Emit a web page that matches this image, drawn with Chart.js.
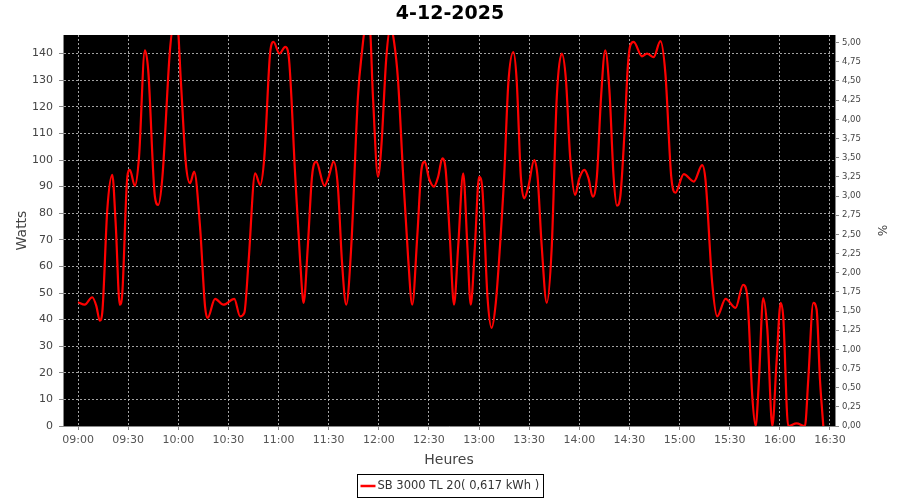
<!DOCTYPE html>
<html>
<head>
<meta charset="utf-8">
<title>4-12-2025</title>
<script src="https://cdn.jsdelivr.net/npm/chart.js@4.4.1/dist/chart.umd.min.js"></script>
<style>
    html, body { margin: 0; padding: 0; background: #ffffff; }
    #graphique { display: block; }
</style>
</head>
<body>
<canvas id="graphique" width="900" height="500"></canvas>
<script>
// Releves de la journee (heure, puissance en W)
const heures = [
    "09:00:00", "09:04:00", "09:08:30", "09:11:00", "09:13:00", "09:14:30", "09:17:30", "09:20:30", "09:22:30", "09:25:00",
    "09:26:30", "09:29:30", "09:31:00", "09:34:00", "09:36:30", "09:40:00", "09:42:00", "09:46:00", "09:48:00", "09:50:30",
    "09:55:00", "09:57:00", "09:59:30", "10:01:30", "10:04:30", "10:07:00", "10:09:30", "10:13:00", "10:16:00", "10:17:30",
    "10:22:00", "10:27:00", "10:33:30", "10:37:00", "10:39:30", "10:42:00", "10:46:00", "10:49:00", "10:51:30", "10:55:00",
    "10:57:00", "11:00:30", "11:04:00", "11:06:00", "11:10:00", "11:13:00", "11:15:00", "11:17:30", "11:20:00", "11:22:30",
    "11:27:30", "11:30:00", "11:33:00", "11:35:30", "11:38:00", "11:40:30", "11:43:30", "11:47:30", "11:50:00", "11:52:00",
    "11:54:30", "11:56:30", "11:59:30", "12:01:30", "12:04:30", "12:07:00", "12:09:00", "12:11:30", "12:14:30", "12:17:30",
    "12:20:00", "12:23:00", "12:25:30", "12:27:30", "12:30:00", "12:33:00", "12:35:30", "12:38:00", "12:40:00", "12:42:30",
    "12:45:00", "12:47:30", "12:50:30", "12:53:00", "12:55:00", "12:57:30", "13:00:00", "13:02:00", "13:05:00", "13:07:30",
    "13:10:00", "13:12:30", "13:15:00", "13:17:30", "13:20:30", "13:22:30", "13:25:00", "13:27:00", "13:29:30", "13:33:00",
    "13:35:00", "13:37:30", "13:40:30", "13:43:30", "13:46:30", "13:49:30", "13:52:00", "13:54:30", "13:57:30", "14:00:00",
    "14:03:00", "14:05:30", "14:08:00", "14:10:30", "14:13:00", "14:15:30", "14:18:00", "14:20:30", "14:22:30", "14:24:30",
    "14:27:00", "14:29:00", "14:30:30", "14:32:30", "14:37:30", "14:40:30", "14:44:30", "14:48:30", "14:51:30", "14:55:00",
    "14:57:30", "15:02:30", "15:08:30", "15:13:30", "15:15:30", "15:19:30", "15:22:30", "15:27:30", "15:33:30", "15:38:00",
    "15:40:30", "15:43:30", "15:45:30", "15:47:30", "15:50:00", "15:52:30", "15:55:30", "15:58:00", "16:00:30", "16:02:00",
    "16:05:00", "16:10:00", "16:15:00", "16:17:00", "16:20:00", "16:22:00", "16:24:00", "16:26:00"
]
const watts = [
    46.5, 45.6, 48.4, 45.0, 39.6, 42.6, 81.3, 94.4, 76.4, 45.6,
    50.0, 93.7, 96.3, 90.3, 101.2, 141.2, 133.7, 86.2, 83.1, 93.7,
    141.2, 150.0, 150.0, 130.0, 98.8, 91.3, 95.6, 75.0, 45.0, 40.6,
    47.8, 45.6, 47.8, 41.2, 42.5, 61.3, 95.0, 90.6, 101.2, 140.6,
    144.4, 140.0, 142.5, 139.4, 93.7, 61.3, 46.3, 67.5, 93.7, 99.4,
    90.3, 93.7, 99.4, 90.0, 61.3, 45.6, 67.5, 123.7, 141.2, 150.0,
    150.0, 123.7, 93.7, 105.0, 138.7, 150.0, 145.0, 130.0, 95.0, 63.7,
    45.6, 71.2, 96.3, 99.4, 93.1, 90.0, 93.7, 100.6, 96.3, 71.2,
    45.6, 67.5, 95.0, 67.5, 45.6, 67.5, 93.7, 88.8, 48.8, 36.9,
    46.3, 67.5, 93.7, 128.8, 140.6, 130.0, 93.7, 85.6, 90.0, 100.0,
    93.7, 67.5, 46.3, 67.5, 123.7, 140.0, 130.0, 101.2, 86.9, 93.1,
    96.3, 93.1, 86.2, 93.7, 123.7, 141.2, 126.2, 93.7, 82.8, 86.2,
    110.0, 135.0, 143.1, 144.4, 139.0, 140.0, 138.7, 144.7, 132.5, 93.7,
    87.7, 94.7, 91.9, 98.1, 92.5, 53.8, 41.2, 47.8, 44.4, 53.1,
    48.8, 11.2, 0, 17.5, 48.1, 36.3, 0, 23.8, 46.3, 41.2,
    0, 1.0, 0, 17.5, 46.3, 43.8, 17.5, 0
]

const heuresAxe   = ["09:00", "09:30", "10:00", "10:30", "11:00", "11:30", "12:00", "12:30",
                     "13:00", "13:30", "14:00", "14:30", "15:00", "15:30", "16:00", "16:30"]
const wattsAxe    = [0, 10, 20, 30, 40, 50, 60, 70, 80, 90, 100, 110, 120, 130, 140]
const pourcentAxe = [0, 0.25, 0.5, 0.75, 1, 1.25, 1.5, 1.75, 2, 2.25, 2.5, 2.75, 3, 3.25, 3.5,
                     3.75, 4, 4.25, 4.5, 4.75, 5]

const nomSerie = "SB 3000 TL 20( 0,617 kWh )"

// "HH:MM(:SS)" -> minutes depuis minuit
const enMinutes = function (h) {
    const p = h.split(":").map(Number)
    return p[0] * 60 + p[1] + (p[2] || 0) / 60
}
const enHeure = function (m) {
    const h = Math.floor(m / 60)
    const mn = Math.round(m % 60)
    return String(h).padStart(2, "0") + ":" + String(mn).padStart(2, "0")
}

const points = heures.map((h, i) => ({ x: enMinutes(h), y: watts[i] }))

const gris    = "#444444"
const grille  = "rgba(190,190,190,0.85)"

// fond noir de la zone de trace
const fondNoir = {
    id: "fondNoir",
    beforeDraw(chart) {
        const { ctx, chartArea } = chart
        ctx.save()
        ctx.fillStyle = "#000000"
        ctx.fillRect(chartArea.left, chartArea.top, chartArea.right - chartArea.left, chartArea.bottom - chartArea.top)
        ctx.restore()
    }
}

// legende encadree en bas
const cadreLegende = {
    id: "cadreLegende",
    afterDraw(chart) {
        const ctx = chart.ctx
        const ds = chart.data.datasets[0]
        ctx.save()
        ctx.font = '11.5px "DejaVu Sans"'
        const largeur = Math.round(ctx.measureText(ds.label).width) + 24
        const x = Math.round((chart.width - largeur) / 2) + 0.5
        const y = 474.5
        ctx.strokeStyle = "#000000"
        ctx.lineWidth = 1
        ctx.strokeRect(x, y, largeur, 23)
        ctx.strokeStyle = ds.borderColor
        ctx.lineWidth = 2.5
        ctx.beginPath()
        ctx.moveTo(x + 3, y + 11.5)
        ctx.lineTo(x + 18, y + 11.5)
        ctx.stroke()
        ctx.fillStyle = "#333333"
        ctx.textBaseline = "middle"
        ctx.fillText(ds.label, x + 20, y + 12)
        ctx.restore()
    }
}

Chart.defaults.font.family = '"DejaVu Sans", sans-serif'

new Chart(document.getElementById("graphique"), {
    type: "line",
    data: {
        datasets: [{
            label: nomSerie,
            data: points,
            borderColor: "#ff0000",
            borderWidth: 2.2,
            pointRadius: 0,
            fill: false,
            cubicInterpolationMode: "monotone",
            yAxisID: "y"
        }]
    },
    options: {
        responsive: false,
        animation: false,
        devicePixelRatio: 1,
        layout: { padding: { left: 0, right: 0, top: 0, bottom: 28 } },
        plugins: {
            legend: { display: false },
            tooltip: { enabled: false },
            title: {
                display: true,
                text: "4-12-2025",
                color: "#000000",
                font: { size: 19, weight: "bold" },
                padding: { top: 3, bottom: 9.2 }
            }
        },
        scales: {
            x: {
                type: "linear",
                min: 531,
                max: 993,
                afterBuildTicks: (scale) => { scale.ticks = heuresAxe.map((h) => ({ value: enMinutes(h) })) },
                afterFit: (scale) => { scale.height = 46 },
                ticks: { color: "#555555", font: { size: 11 }, padding: 4, maxRotation: 0, autoSkip: false,
                         callback: (v) => enHeure(v) },
                grid: { color: grille, tickColor: "#888888", tickLength: 4 },
                border: { display: true, color: "#888888", dash: [2, 2] },
                title: { display: true, text: "Heures", color: gris, font: { size: 14 }, padding: { top: 0, bottom: 3 } }
            },
            y: {
                position: "left",
                min: 0,
                max: 147,
                afterBuildTicks: (scale) => { scale.ticks = wattsAxe.map((v) => ({ value: v })) },
                afterFit: (scale) => { scale.width = 63 },
                ticks: { color: gris, font: { size: 11 }, padding: 6 },
                grid: { color: grille, tickColor: "#888888", tickLength: 4 },
                border: { display: true, color: "#888888", dash: [2, 2] },
                title: { display: true, text: "Watts", color: gris, font: { size: 14 }, padding: { top: 14, bottom: 0 } }
            },
            y2: {
                position: "right",
                min: 0,
                max: 5.1,
                afterBuildTicks: (scale) => { scale.ticks = pourcentAxe.map((v) => ({ value: v })) },
                afterFit: (scale) => { scale.width = 65 },
                ticks: { color: gris, font: { size: 8.5 }, padding: 3,
                         callback: (v) => v.toFixed(2).replace(".", ",") },
                grid: { drawOnChartArea: false, tickColor: "#888888", tickLength: 4 },
                border: { display: true, color: "#888888" },
                title: { display: true, text: "%", color: gris, font: { size: 12 }, padding: { top: 12, bottom: 0 } }
            }
        }
    },
    plugins: [fondNoir, cadreLegende]
})
</script>
</body>
</html>
